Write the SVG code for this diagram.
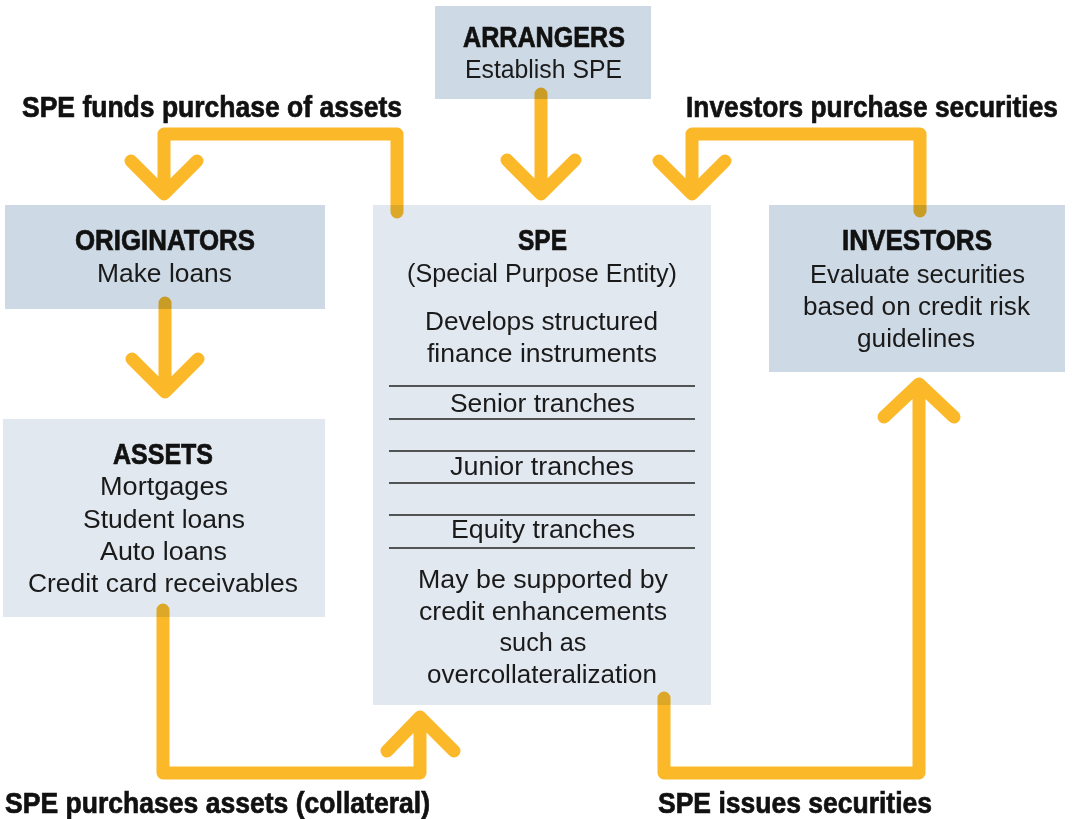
<svg xmlns="http://www.w3.org/2000/svg" width="1075" height="819" viewBox="0 0 1075 819">
<style>
.dark{fill:#cdd9e4}
.light{fill:#e1e8f0}
.h{font-family:"Liberation Sans Narrow","Liberation Sans",Arial,sans-serif;font-weight:bold;font-size:30px;fill:#111;stroke:#111;stroke-width:0.7;text-anchor:middle}
.b{font-family:"Liberation Sans",Arial,sans-serif;font-size:25px;fill:#1a1a1a;text-anchor:middle}
.rule{stroke:#222;stroke-width:1.5}
.arrow{fill:none;stroke:#fbb829;stroke-width:13;stroke-linecap:round;stroke-linejoin:round}
</style>
<rect width="1075" height="819" fill="#fff"/>
<g id="arrangers">
<rect class="dark" x="435" y="6" width="216" height="93"/>
<text class="h" x="544" y="47" textLength="162" lengthAdjust="spacingAndGlyphs">ARRANGERS</text>
<text class="b" x="543.5" y="78" textLength="157" lengthAdjust="spacingAndGlyphs">Establish SPE</text>
</g>
<g id="originators">
<rect class="dark" x="5" y="205" width="320" height="104"/>
<text class="h" x="165" y="250" textLength="180" lengthAdjust="spacingAndGlyphs">ORIGINATORS</text>
<text class="b" x="164.5" y="282" textLength="135" lengthAdjust="spacingAndGlyphs">Make loans</text>
</g>
<g id="assets">
<rect class="light" x="3" y="419" width="322" height="198"/>
<text class="h" x="163" y="464" textLength="100" lengthAdjust="spacingAndGlyphs">ASSETS</text>
<text class="b" x="164" y="495" textLength="128" lengthAdjust="spacingAndGlyphs">Mortgages</text>
<text class="b" x="164" y="528" textLength="162" lengthAdjust="spacingAndGlyphs">Student loans</text>
<text class="b" x="163.5" y="560" textLength="127" lengthAdjust="spacingAndGlyphs">Auto loans</text>
<text class="b" x="163" y="592" textLength="270" lengthAdjust="spacingAndGlyphs">Credit card receivables</text>
</g>
<g id="spe">
<rect class="light" x="373" y="205" width="338" height="500"/>
<text class="h" x="542.5" y="250" textLength="49" lengthAdjust="spacingAndGlyphs">SPE</text>
<text class="b" x="542" y="282" textLength="270" lengthAdjust="spacingAndGlyphs">(Special Purpose Entity)</text>
<text class="b" x="541.5" y="330" textLength="233" lengthAdjust="spacingAndGlyphs">Develops structured</text>
<text class="b" x="542" y="362" textLength="230" lengthAdjust="spacingAndGlyphs">finance instruments</text>
<line class="rule" x1="389" y1="386" x2="695" y2="386"/>
<text class="b" x="542.5" y="412" textLength="185" lengthAdjust="spacingAndGlyphs">Senior tranches</text>
<line class="rule" x1="389" y1="419" x2="695" y2="419"/>
<line class="rule" x1="389" y1="451" x2="695" y2="451"/>
<text class="b" x="542" y="475" textLength="184" lengthAdjust="spacingAndGlyphs">Junior tranches</text>
<line class="rule" x1="389" y1="483" x2="695" y2="483"/>
<line class="rule" x1="389" y1="515" x2="695" y2="515"/>
<text class="b" x="543" y="538" textLength="184" lengthAdjust="spacingAndGlyphs">Equity tranches</text>
<line class="rule" x1="389" y1="548" x2="695" y2="548"/>
<text class="b" x="543" y="588" textLength="250" lengthAdjust="spacingAndGlyphs">May be supported by</text>
<text class="b" x="543" y="620" textLength="248" lengthAdjust="spacingAndGlyphs">credit enhancements</text>
<text class="b" x="543" y="651" textLength="87" lengthAdjust="spacingAndGlyphs">such as</text>
<text class="b" x="542" y="683" textLength="230" lengthAdjust="spacingAndGlyphs">overcollateralization</text>
</g>
<g id="investors">
<rect class="dark" x="769" y="205" width="296" height="167"/>
<text class="h" x="917" y="250" textLength="150" lengthAdjust="spacingAndGlyphs">INVESTORS</text>
<text class="b" x="917.5" y="283" textLength="215" lengthAdjust="spacingAndGlyphs">Evaluate securities</text>
<text class="b" x="916.5" y="315" textLength="227" lengthAdjust="spacingAndGlyphs">based on credit risk</text>
<text class="b" x="916" y="347" textLength="118" lengthAdjust="spacingAndGlyphs">guidelines</text>
</g>
<g id="connectors" style="mix-blend-mode:multiply">
<path class="arrow" d="M541,94 V193 M507,160 L541,194 L575,160"/>
<path class="arrow" d="M397,212 V134 H164 V194 M131,161 L164,194 L197,161"/>
<path class="arrow" d="M920,211 V134 H692 V194 M659,161 L692,194 L725,161"/>
<path class="arrow" d="M165,303 V392 M132,359 L165,392 L198,359"/>
<path class="arrow" d="M163,610 V773 H420 V717 M387,751 L420,717 L454,751"/>
<path class="arrow" d="M664,698 V773 H919 V384 M884,417 L919,384 L954,417"/>
</g>
<g id="labels">
<text class="h" x="212" y="117" textLength="380" lengthAdjust="spacingAndGlyphs">SPE funds purchase of assets</text>
<text class="h" x="872" y="117" textLength="372" lengthAdjust="spacingAndGlyphs">Investors purchase securities</text>
<text class="h" x="217.5" y="813" textLength="425" lengthAdjust="spacingAndGlyphs">SPE purchases assets (collateral)</text>
<text class="h" x="795" y="813" textLength="274" lengthAdjust="spacingAndGlyphs">SPE issues securities</text>
</g>
</svg>
